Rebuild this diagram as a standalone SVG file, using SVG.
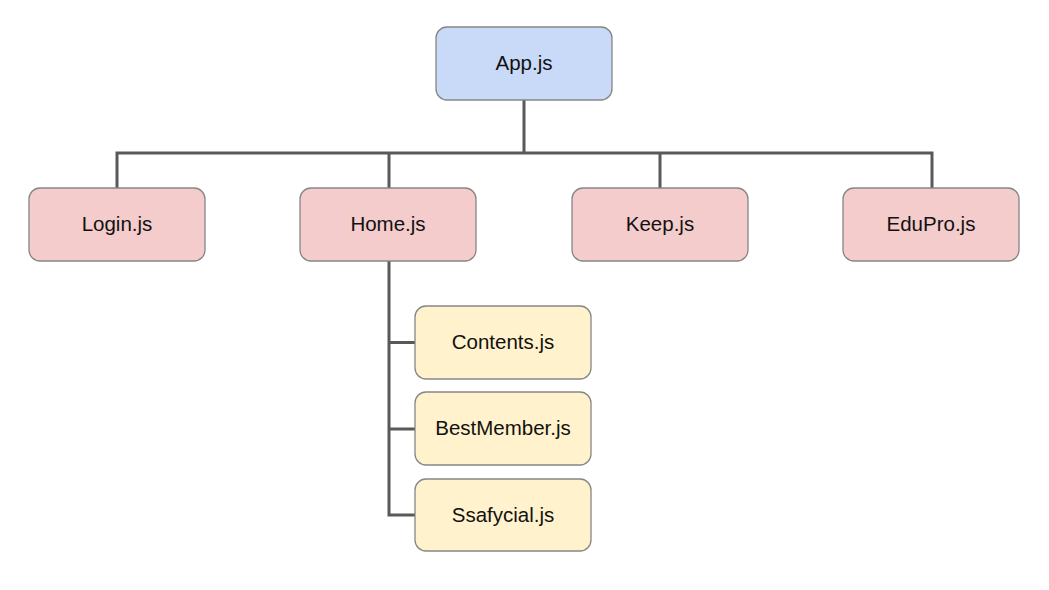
<svg xmlns="http://www.w3.org/2000/svg" width="1049" height="590" viewBox="0 0 1049 590">
<style>
.box{stroke:#868686;stroke-width:1.3}
.blue{fill:#c9daf8}
.pink{fill:#f4cccc}
.yellow{fill:#fff2cc}
.lbl{font-family:"Liberation Sans",Arial,sans-serif;font-size:20.5px;fill:#111;text-anchor:middle;dominant-baseline:central}
.conn{fill:none;stroke:#595959;stroke-width:3}
</style>
<rect width="1049" height="590" fill="#fff"/>
<g id="connectors">
<path class="conn" d="M524 100 V153 M117 188 V153 H932 V188 M389 153 V188 M660 153 V188"/>
<path class="conn" d="M389 261 V515 H415 M389 342.5 H415 M389 429 H415"/>
</g>
<g id="app"><rect class="box blue" x="436" y="27" width="176" height="73" rx="11"/><text class="lbl" x="524" y="62.5">App.js</text></g>
<g id="login"><rect class="box pink" x="29" y="188" width="176" height="73" rx="11"/><text class="lbl" x="117" y="223.5">Login.js</text></g>
<g id="home"><rect class="box pink" x="300" y="188" width="176" height="73" rx="11"/><text class="lbl" x="388" y="223.5">Home.js</text></g>
<g id="keep"><rect class="box pink" x="572" y="188" width="176" height="73" rx="11"/><text class="lbl" x="660" y="223.5">Keep.js</text></g>
<g id="edupro"><rect class="box pink" x="843" y="188" width="176" height="73" rx="11"/><text class="lbl" x="931" y="223.5">EduPro.js</text></g>
<g id="contents"><rect class="box yellow" x="415" y="306" width="176" height="73" rx="11"/><text class="lbl" x="503" y="341.5">Contents.js</text></g>
<g id="bestmember"><rect class="box yellow" x="415" y="392" width="176" height="73" rx="11"/><text class="lbl" x="503" y="427.5">BestMember.js</text></g>
<g id="ssafycial"><rect class="box yellow" x="415" y="479" width="176" height="72" rx="11"/><text class="lbl" x="503" y="514.5">Ssafycial.js</text></g>
</svg>
